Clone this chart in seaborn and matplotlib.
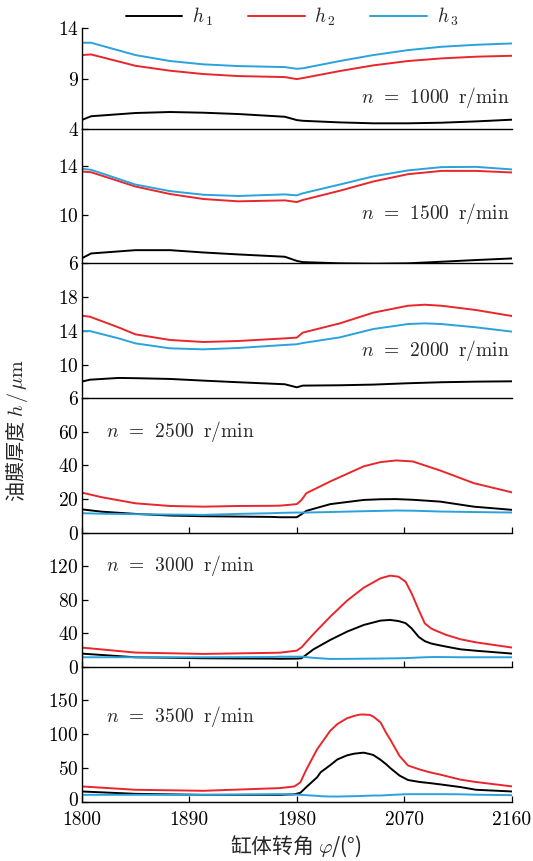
import numpy as np
import pandas as pd
import seaborn as sns
import matplotlib.pyplot as plt
from matplotlib.transforms import ScaledTranslation

# Speeds and axis settings
speeds = [1000, 1500, 2000, 2500, 3000, 3500]
ylims = [(4, 14), (6, 17), (6, 22), (0, 80), (0, 160), (0, 200)]
yticks = [[4, 9, 14], [6, 10, 14], [6, 10, 14, 18], [0, 20, 40, 60],
          [0, 40, 80, 120], [0, 50, 100, 150]]
xticks = [1800, 1890, 1980, 2070, 2160]
series_names = ['$h_{\\,1}$', '$h_{\\,2}$', '$h_{\\,3}$']
colors = ['black', '#e8262b', '#2aa2dc']

# n = 1000 r/min
x_1000 = [1800, 1808, 1845, 1874, 1902, 1931, 1970, 1980, 1985, 2016, 2044, 2073, 2101, 2130, 2160]
h1_1000 = [4.92, 5.30, 5.62, 5.72, 5.65, 5.52, 5.25, 4.92, 4.85, 4.69, 4.60, 4.60, 4.66, 4.79, 4.96]
h2_1000 = [11.36, 11.42, 10.30, 9.81, 9.48, 9.28, 9.18, 8.98, 9.08, 9.78, 10.34, 10.77, 11.03, 11.20, 11.29]
h3_1000 = [12.58, 12.58, 11.36, 10.77, 10.44, 10.27, 10.17, 10.00, 10.05, 10.77, 11.36, 11.85, 12.18, 12.38, 12.51]

# n = 1500 r/min
x_1500 = [1800, 1808, 1845, 1874, 1902, 1931, 1970, 1980, 1985, 2016, 2044, 2073, 2101, 2130, 2160]
h1_1500 = [6.40, 6.81, 7.08, 7.08, 6.89, 6.73, 6.54, 6.20, 6.10, 6.00, 5.97, 6.00, 6.13, 6.27, 6.40]
h2_1500 = [13.54, 13.48, 12.31, 11.69, 11.28, 11.09, 11.17, 11.03, 11.20, 11.96, 12.72, 13.32, 13.59, 13.59, 13.46]
h3_1500 = [13.76, 13.68, 12.47, 11.93, 11.63, 11.53, 11.66, 11.58, 11.75, 12.47, 13.14, 13.63, 13.90, 13.92, 13.71]

# n = 2000 r/min
x_2000 = [1800, 1807, 1831, 1845, 1874, 1902, 1931, 1970, 1980, 1985, 2016, 2044, 2073, 2087, 2101, 2130, 2160]
h1_2000 = [7.97, 8.20, 8.41, 8.38, 8.29, 8.09, 7.90, 7.66, 7.30, 7.50, 7.54, 7.62, 7.78, 7.84, 7.90, 7.97, 8.01]
h2_2000 = [15.79, 15.67, 14.40, 13.58, 12.91, 12.67, 12.79, 13.10, 13.19, 13.78, 14.88, 16.15, 16.97, 17.09, 16.97, 16.46, 15.75]
h3_2000 = [13.97, 13.97, 13.10, 12.51, 11.92, 11.80, 11.96, 12.32, 12.40, 12.55, 13.22, 14.21, 14.80, 14.88, 14.80, 14.41, 13.90]

# n = 2500 r/min
x_2500 = [1800, 1817, 1845, 1874, 1902, 1931, 1959, 1966, 1980, 1984, 1988, 2008, 2036, 2050, 2063, 2077, 2100, 2128, 2160]
h1_2500 = [13.9, 12.5, 11.2, 10.2, 9.8, 9.6, 9.4, 9.2, 9.2, 11.0, 13.0, 17.0, 19.5, 19.9, 20.0, 19.6, 18.5, 15.5, 13.6]
h2_2500 = [23.9, 21.1, 17.5, 15.9, 15.5, 15.9, 16.0, 16.1, 17.0, 19.5, 23.5, 30.5, 39.5, 42.0, 43.0, 42.4, 37.0, 29.5, 24.0]
h3_2500 = [11.6, 11.3, 11.0, 10.8, 10.6, 11.2, 11.6, 11.8, 12.0, 12.0, 12.0, 12.3, 12.8, 13.0, 13.2, 13.1, 12.6, 12.3, 12.0]

# n = 3000 r/min
x_3000 = [1800, 1845, 1902, 1959, 1966, 1980, 1984, 1994, 2008, 2022, 2036, 2050, 2058, 2065, 2071, 2076,
          2082, 2087, 2092, 2095, 2105, 2117, 2130, 2160]
h1_3000 = [15.6, 11.2, 10.0, 9.6, 9.4, 9.6, 10.0, 20.7, 31.9, 41.8, 49.8, 55.0, 55.8, 54.5, 52.0, 45.8,
           35.5, 30.5, 27.8, 26.8, 23.9, 20.7, 19.0, 15.6]
h2_3000 = [22.8, 16.8, 15.2, 16.5, 16.7, 19.1, 23.1, 39.0, 59.7, 78.8, 94.3, 105.5, 108.7, 107.5, 101.5, 87.6,
           67.7, 51.8, 46.0, 43.8, 37.9, 32.7, 29.0, 22.8]
h3_3000 = [11.2, 11.2, 11.2, 11.5, 11.9, 11.9, 11.9, 10.5, 9.2, 9.3, 9.5, 9.7, 9.9, 10.0, 10.2, 10.5,
           10.9, 11.2, 11.4, 11.5, 11.4, 11.2, 11.2, 11.2]

# n = 3500 r/min
x_3500 = [1800, 1845, 1902, 1966, 1978, 1983, 1988, 1997, 2000, 2008, 2014, 2022, 2028, 2033, 2036, 2041,
          2044, 2050, 2055, 2058, 2066, 2073, 2083, 2091, 2100, 2117, 2130, 2160]
h1_3500 = [15.0, 11.5, 10.0, 10.0, 10.8, 13.0, 21.5, 36.0, 43.5, 54.0, 62.5, 68.5, 71.0, 72.0, 72.5, 70.5,
           69.0, 62.0, 55.0, 50.0, 38.5, 32.0, 29.0, 27.5, 25.5, 21.5, 17.5, 15.0]
h2_3500 = [22.5, 17.5, 16.0, 20.0, 22.5, 28.5, 47.5, 77.5, 85.0, 105.0, 115.0, 123.5, 127.0, 129.0, 129.0, 128.5,
           126.0, 117.5, 101.0, 92.5, 67.5, 53.5, 47.5, 43.5, 40.0, 32.5, 29.0, 22.5]
h3_3500 = [10.0, 10.0, 10.0, 11.0, 10.5, 10.0, 9.5, 8.5, 8.0, 7.5, 7.5, 7.8, 8.0, 8.2, 8.5, 8.8,
           9.0, 9.0, 9.5, 9.8, 10.5, 11.0, 11.0, 11.0, 11.0, 10.8, 10.2, 9.5]

panels = [
    (x_1000, h1_1000, h2_1000, h3_1000),
    (x_1500, h1_1500, h2_1500, h3_1500),
    (x_2000, h1_2000, h2_2000, h3_2000),
    (x_2500, h1_2500, h2_2500, h3_2500),
    (x_3000, h1_3000, h2_3000, h3_3000),
    (x_3500, h1_3500, h2_3500, h3_3500),
]
label_pos = [(0.994, 0.32), (0.994, 0.37), (0.994, 0.355), (0.057, 0.75), (0.057, 0.755), (0.057, 0.63)]

sns.set_theme(style='ticks')
plt.rcParams['font.family'] = ['cmr10', 'Noto Sans CJK SC', 'DejaVu Sans']
plt.rcParams['mathtext.fontset'] = 'cm'
plt.rcParams['axes.formatter.use_mathtext'] = True
plt.rcParams['font.size'] = 14

fig, axes = plt.subplots(6, 1, figsize=(5.33, 8.61), dpi=100, sharex=True,
                         gridspec_kw={'height_ratios': [101, 134, 135, 134.5, 134, 135], 'hspace': 0})
fig.subplots_adjust(left=0.153, right=0.9606, top=0.967, bottom=0.069)

for i, ax in enumerate(axes):
    x, h1, h2, h3 = panels[i]
    df = pd.DataFrame({'phi': x * 3, 'h': h1 + h2 + h3,
                       'series': [series_names[0]] * len(x) + [series_names[1]] * len(x) + [series_names[2]] * len(x)})
    sns.lineplot(data=df, x='phi', y='h', hue='series', palette=colors, sort=False,
                 linewidth=1.4, ax=ax, legend=(i == 0))
    ax.set_facecolor('none')
    ax.set_xlim(1800, 2160)
    ax.set_ylim(*ylims[i])
    ax.set_yticks(yticks[i])
    ax.set_xticks(xticks)
    ax.set_xlabel('')
    ax.set_ylabel('')
    for s in ['top', 'right']:
        ax.spines[s].set_visible(False)
    for s in ['left', 'bottom']:
        ax.spines[s].set_linewidth(1.0)
        ax.spines[s].set_color('black')
        ax.spines[s].set_zorder(5)
    ax.tick_params(axis='y', direction='in', length=4, width=0.9, labelsize=14, colors='black', pad=2)
    ax.tick_params(axis='x', direction='in', length=4, width=0.9, labelsize=14, colors='black', pad=7)
    if i < 3:
        ax.tick_params(axis='x', length=0)
    label = r'$n\;\,=\;\,%d\;\;\mathrm{r/min}$' % speeds[i]
    lx, ly = label_pos[i]
    ax.text(lx, ly, label, transform=ax.transAxes, ha='right' if i < 3 else 'left',
            va='center', fontsize=14)

axes[-1].set_xticklabels([str(t) for t in xticks])
# nudge the bottom "0" up a little so it clears the "1800" below it
zero_label = axes[-1].get_yticklabels()[0]
zero_label.set_transform(zero_label.get_transform() + ScaledTranslation(0, 3 / 100, fig.dpi_scale_trans))

handles, labels = axes[0].get_legend_handles_labels()
axes[0].get_legend().remove()
fig.legend(handles, labels, loc='center', bbox_to_anchor=(292 / 533, 1 - 17 / 861), ncol=3,
           frameon=False, handlelength=2.9, columnspacing=1.8, handletextpad=0.5, fontsize=14)

fig.text(17 / 533, 1 - 430 / 861, '油膜厚度 $h\\,/\\,\\mu\\mathrm{m}$', rotation=90,
         ha='center', va='center', fontsize=14.5, family=['Noto Sans CJK SC', 'DejaVu Sans'])
fig.text(296 / 533, 1 - 846 / 861, '缸体转角 $\\varphi$/(°)', ha='center', va='center',
         fontsize=15, family=['Noto Sans CJK SC', 'DejaVu Sans'])

fig.savefig('out.png', dpi=100)
